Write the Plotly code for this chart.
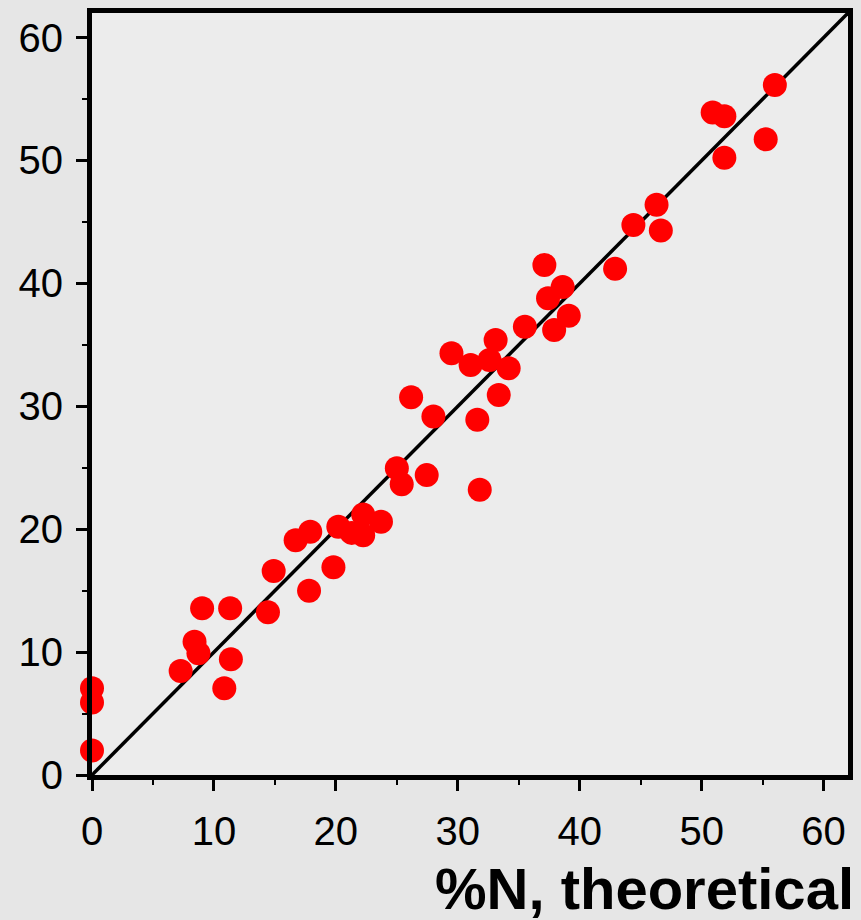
import plotly.graph_objects as go

# %N theoretical (x) vs measured (y)
x_theor = [0, 0, 0, 7.27, 8.41, 8.73, 9.03, 11.33, 11.39, 10.85,
           14.43, 14.9, 16.7, 17.9, 17.8, 19.8, 20.2, 21.3, 22.24, 22.24,
           23.7, 25.0, 25.4, 27.45, 31.8, 26.17, 28.0, 31.6, 33.36, 29.48,
           31.05, 32.6, 33.1, 34.17, 35.5, 37.4, 39.1, 37.9, 37.1, 38.6,
           42.9, 44.4, 46.3, 46.65, 50.9, 51.86, 55.25, 51.86, 56.0]
y_meas = [7.05, 5.9, 2.0, 8.46, 10.85, 9.9, 13.56, 13.56, 9.41, 7.05,
          13.24, 16.6, 19.1, 19.8, 15.0, 16.9, 20.2, 19.7, 21.2, 19.5,
          20.6, 24.96, 23.65, 24.4, 23.2, 30.73, 29.16, 28.9, 30.92, 34.31,
          33.36, 33.77, 35.4, 33.09, 36.48, 38.8, 37.37, 36.2, 41.5, 39.7,
          41.2, 44.75, 46.4, 44.3, 53.9, 53.6, 51.72, 50.23, 56.14]

line_x = [0, 62]
line_y = [0, 62]

tick_vals = [0, 10, 20, 30, 40, 50, 60]
tick_text = ["0", "10", "20", "30", "40", "50", "60"]

fig = go.Figure()
fig.add_trace(go.Scatter(x=line_x, y=line_y, mode="lines",
                         line=dict(color="black", width=3.5),
                         showlegend=False, hoverinfo="skip"))
fig.add_trace(go.Scatter(x=x_theor, y=y_meas, mode="markers",
                         marker=dict(color="#ff0000", size=24, line=dict(width=0)),
                         showlegend=False, cliponaxis=False))

axis_common = dict(
    range=[0, 62], showgrid=False, zeroline=False,
    showline=True, linewidth=5, linecolor="black", mirror=True,
    ticks="outside", ticklen=11, tickwidth=3, tickcolor="black",
    tickvals=tick_vals, ticktext=tick_text,
    tickfont=dict(family="Liberation Sans, Arial", size=40, color="black"),
    minor=dict(tickvals=[5, 15, 25, 35, 45, 55], ticklen=5, tickwidth=1.5,
               tickcolor="black", ticks="outside"),
)

fig.update_xaxes(ticklabelstandoff=6, **axis_common)
fig.update_yaxes(ticklabelstandoff=5, **axis_common)

fig.add_annotation(text="<b>%N, theoretical</b>", xref="paper", yref="paper",
                   x=1.0, y=-0.104, xanchor="right", yanchor="top",
                   xshift=8, showarrow=False,
                   font=dict(family="Liberation Sans, Arial", size=58, color="black"))

fig.update_layout(
    width=861, height=920,
    margin=dict(l=92, r=8, t=13, b=145),
    paper_bgcolor="#e6e6e6", plot_bgcolor="#ececec",
)

fig.write_html("out.html")
